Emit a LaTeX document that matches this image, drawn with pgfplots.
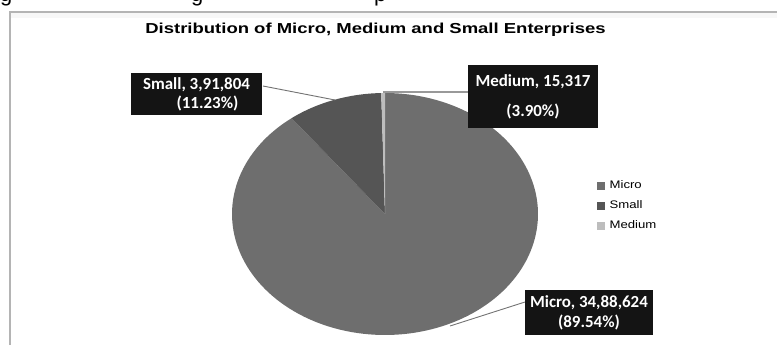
\documentclass[border=0pt]{standalone}
\usepackage{fontspec}
\setmainfont{Liberation Sans}
\newfontfamily\calfont{Carlito}
\usepackage{graphicx}
\usepackage{pgfplots}
\pgfplotsset{compat=1.18}
\definecolor{cMicro}{HTML}{6E6E6E}
\definecolor{cSmall}{HTML}{555555}
\definecolor{cMedium}{HTML}{BDBDBD}
\definecolor{frameg}{HTML}{B4B4B4}
\definecolor{boxk}{HTML}{141414}
% data
\def\vMicro{3488624}
\def\vSmall{391804}
\def\vMedium{15317}
\edef\aMicro{\fpeval{360*\vMicro/(\vMicro+\vSmall+\vMedium)}}
\edef\aSmall{\fpeval{360*\vSmall/(\vMicro+\vSmall+\vMedium)}}
\edef\eMicro{\fpeval{90-\aMicro}}
\edef\eSmall{\fpeval{90-\aMicro-\aSmall}}
\begin{document}
\begin{tikzpicture}[x=1bp,y=1bp]
\useasboundingbox (0,0) rectangle (777,345);
\begin{scope}
\clip (0,0) rectangle (777,345);
\node[anchor=base west,inner sep=0pt,font=\fontsize{22}{24}\selectfont] at (0,344) {g};
\node[anchor=base west,inner sep=0pt,font=\fontsize{22}{24}\selectfont] at (191,344) {g};
\node[anchor=base west,inner sep=0pt,font=\fontsize{22}{24}\selectfont] at (374,344) {p};
\end{scope}
\fill[black!3] (11,332) rectangle (777,327);
\draw[frameg,line width=1.6bp] (10,0) -- (10,333) -- (777,333);
\node[font=\fontsize{14.5}{16}\selectfont\bfseries,inner sep=0pt] at (375.5,315) {\scalebox{1.28}[1]{Distribution of Micro, Medium and Small Enterprises}};
\begin{axis}[at={(385bp,131bp)}, anchor=center, scale only axis,
  width=306bp, height=242bp, xmin=-1, xmax=1, ymin=-1, ymax=1,
  hide axis, clip=false,
  legend image code/.code={\fill[#1] (0bp,-4bp) rectangle (8bp,4bp);},
  legend cell align=left,
  legend style={draw=none, fill=none, inner sep=0pt, row sep=8bp,
    at={(axis cs:1.382,0.285)}, anchor=north west,
    font=\fontsize{11}{12}\selectfont,
    nodes={inner sep=1bp, text height=8bp, text depth=2bp}},
]
\addplot[fill=cMicro, draw=none, domain=\eMicro:90, samples=150, variable=\t]
  ({cos(\t)},{sin(\t)}) -- (axis cs:0,0) -- cycle;
\addlegendentry{\hspace*{4bp}\scalebox{1.2}[1]{Micro}}
\addplot[fill=cSmall, draw=none, domain=\eSmall:\eMicro, samples=30, variable=\t]
  ({cos(\t)},{sin(\t)}) -- (axis cs:0,0) -- cycle;
\addlegendentry{\hspace*{4bp}\scalebox{1.2}[1]{Small}}
\addplot[fill=cMedium, draw=none, domain=-270:\eSmall, samples=5, variable=\t]
  ({cos(\t)},{sin(\t)}) -- (axis cs:0,0) -- cycle;
\addlegendentry{\hspace*{4bp}\scalebox{1.2}[1]{Medium}}
\end{axis}
% leader lines
\draw[black!55,line width=0.9bp] (263,259) -- (335,245);
\draw[black!40,line width=2bp] (383,253) -- (468,253);
\draw[black!55,line width=0.9bp] (450,19) -- (525,43);
% labels
\node[fill=boxk,text=white!90,minimum width=131bp,minimum height=42bp,align=center,
  font=\calfont\fontsize{17}{19}\selectfont\bfseries,inner sep=0pt] at (196.5,251)
  {Small, 3,91,804\\\hspace*{22bp}(11.23\%)};
\node[fill=boxk,text=white!90,minimum width=130bp,minimum height=63bp,align=center,
  font=\calfont\fontsize{17}{30}\selectfont\bfseries,inner sep=0pt] at (533,248.5)
  {Medium, 15,317\\(3.90\%)};
\node[fill=boxk,text=white!90,minimum width=128bp,minimum height=45bp,align=center,
  font=\calfont\fontsize{17}{20}\selectfont\bfseries,inner sep=0pt] at (589,32.5)
  {Micro, 34,88,624\\(89.54\%)};
\end{tikzpicture}
\end{document}
